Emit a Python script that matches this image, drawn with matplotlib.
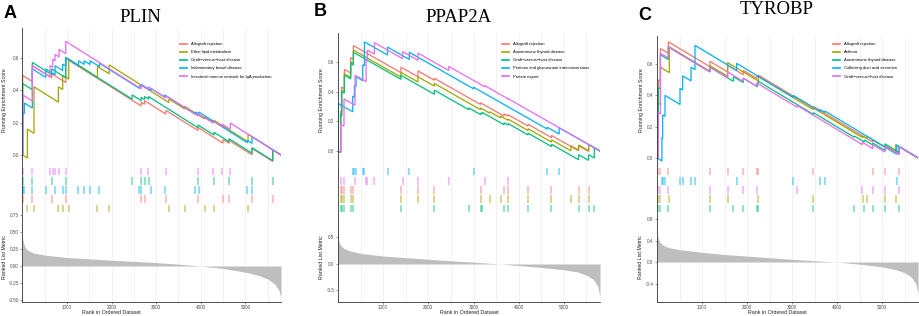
import numpy as np
import matplotlib.pyplot as plt
from matplotlib.lines import Line2D

plt.rcParams["font.family"] = ["Liberation Sans", "DejaVu Sans"]

N_GENES = 5800
W, H = 920, 316
set_colors = ["#F8766D", "#A3A500", "#00BF7D", "#00B0F6", "#E76BF3"]

# ---------------- A: PLIN ----------------
plin_sets = ["Allograft rejection", "Ether lipid metabolism", "Graft\u2212versus\u2212host disease",
             "Inflammatory bowel disease", "Intestinal immune network for IgA production"]
plin_hits = [
    [4, 221, 655, 970, 2663, 2738, 3217, 3936, 4498, 4633, 5150, 5615],
    [109, 258, 805, 902, 1037, 1682, 1944, 3284, 3636, 4086, 4288, 5060],
    [4, 221, 655, 970, 2460, 2663, 2738, 2828, 3936, 4296, 4633, 5150, 5615],
    [4, 41, 221, 521, 730, 902, 970, 1255, 1382, 1517, 1727, 2618, 2663, 2880, 3187, 3876, 3951, 5045, 5150],
    [4, 221, 618, 678, 730, 820, 970, 2663, 2820, 3217, 3936, 4273, 4476, 4663],
]
plin_es_lo = [
    [0.0, 0.452, 0.475, 0.446, 0.302, 0.312, 0.252, 0.151, 0.073, 0.072, 0.001, -0.040],
    [-0.019, 0.134, 0.325, 0.403, 0.467, 0.478, 0.50, 0.323, 0.284, 0.222, 0.20, 0.081],
    [0.0, 0.402, 0.495, 0.476, 0.344, 0.335, 0.342, 0.344, 0.168, 0.123, 0.082, 0.011, -0.035],
    [0.0, 0.254, 0.289, 0.478, 0.494, 0.52, 0.548, 0.551, 0.558, 0.557, 0.544, 0.411, 0.417, 0.397, 0.357,
     0.251, 0.252, 0.076, 0.072],
    [0.0, 0.332, 0.481, 0.54, 0.581, 0.604, 0.624, 0.407, 0.403, 0.351, 0.241, 0.197, 0.175, 0.158],
]
plin_es_hi = [
    [0.49, 0.55, 0.50, 0.595, 0.325, 0.335, 0.275, 0.17, 0.095, 0.09, 0.04, 0.032],
    [0.16, 0.42, 0.42, 0.49, 0.59, 0.545, 0.555, 0.345, 0.30, 0.235, 0.215, 0.128],
    [0.44, 0.57, 0.53, 0.60, 0.37, 0.355, 0.36, 0.36, 0.185, 0.14, 0.10, 0.045, 0.032],
    [0.26, 0.32, 0.53, 0.53, 0.55, 0.56, 0.60, 0.58, 0.58, 0.58, 0.565, 0.425, 0.435, 0.41, 0.37,
     0.265, 0.265, 0.09, 0.113],
    [0.37, 0.55, 0.55, 0.59, 0.62, 0.65, 0.70, 0.43, 0.42, 0.365, 0.255, 0.21, 0.19, 0.197],
]
plin_rug_rows = [4, 2, 3, 0, 1]
plin_metric_rank = [0, 10, 30, 60, 120, 250, 500, 1000, 1500, 2000, 2500, 3000, 3500, 4000, 4500, 5000,
                    5300, 5500, 5650, 5750, 5800]
plin_metric = [0.45, 0.38, 0.32, 0.27, 0.23, 0.19, 0.16, 0.125, 0.105, 0.085, 0.068, 0.05, 0.027, 0.0,
               -0.035, -0.09, -0.14, -0.19, -0.26, -0.35, -0.47]

# ---------------- B: PPAP2A ----------------
ppap_sets = ["Allograft rejection", "Autoimmune thyroid disease", "Graft\u2212versus\u2212host disease",
             "Pentose and glucuronate interconversions", "Protein export"]
ppap_hits = [
    [59, 81, 141, 281, 341, 1393, 1770, 2133, 3156, 3674, 3763, 4207, 4726, 5326, 5548],
    [59, 81, 141, 281, 341, 1393, 1770, 2133, 3156, 3356, 3600, 3763, 4207, 4726, 5156, 5326, 5548],
    [59, 81, 141, 281, 341, 1393, 2133, 2896, 3156, 3193, 3674, 3763, 4207, 4726, 5326, 5548, 5674],
    [5, 326, 363, 400, 548, 585, 1096, 1578, 3000, 4630, 4896],
    [59, 133, 378, 622, 652, 807, 1430, 1770, 2452, 3252, 3770],
]
ppap_es_lo = [
    [-0.01, 0.266, 0.42, 0.526, 0.62, 0.528, 0.50, 0.477, 0.313, 0.235, 0.235, 0.168, 0.09, 0.001, -0.003],
    [-0.01, 0.246, 0.40, 0.496, 0.59, 0.498, 0.465, 0.437, 0.278, 0.255, 0.223, 0.207, 0.138, 0.06, 0.001,
     0.006, 0.002],
    [-0.01, 0.236, 0.39, 0.486, 0.58, 0.483, 0.382, 0.278, 0.245, 0.249, 0.177, 0.175, 0.108, 0.03, -0.059,
     -0.063, -0.047],
    [0.0, 0.264, 0.364, 0.434, 0.474, 0.574, 0.647, 0.617, 0.419, 0.148, 0.114],
    [-0.01, 0.167, 0.308, 0.468, 0.605, 0.653, 0.622, 0.611, 0.542, 0.432, 0.35],
]
ppap_es_hi = [
    [0.27, 0.43, 0.55, 0.63, 0.71, 0.565, 0.54, 0.49, 0.325, 0.25, 0.245, 0.18, 0.105, 0.035, 0.044],
    [0.25, 0.41, 0.52, 0.60, 0.68, 0.53, 0.50, 0.455, 0.29, 0.265, 0.235, 0.215, 0.15, 0.075, 0.035,
     0.04, 0.044],
    [0.24, 0.40, 0.51, 0.59, 0.665, 0.51, 0.41, 0.29, 0.255, 0.26, 0.19, 0.185, 0.12, 0.045, -0.025,
     -0.025, 0.021],
    [0.32, 0.37, 0.44, 0.50, 0.58, 0.735, 0.70, 0.665, 0.43, 0.16, 0.156],
    [0.18, 0.35, 0.51, 0.61, 0.68, 0.73, 0.67, 0.66, 0.57, 0.44, 0.352],
]
ppap_rug_rows = [3, 4, 0, 1, 2]
ppap_metric_rank = [0, 10, 30, 60, 120, 250, 500, 1000, 1500, 2000, 2500, 3000, 3600, 4000, 4500, 5000,
                    5300, 5500, 5650, 5750, 5800]
ppap_metric = [0.55, 0.47, 0.40, 0.35, 0.30, 0.25, 0.20, 0.15, 0.12, 0.09, 0.06, 0.035, 0.0, -0.03,
               -0.065, -0.11, -0.15, -0.21, -0.29, -0.42, -0.62]

# ---------------- C: TYROBP ----------------
tyro_sets = ["Allograft rejection", "Asthma", "Autoimmune thyroid disease",
             "Collecting duct acid secretion", "Graft\u2212versus\u2212host disease"]
tyro_hits = [
    [30, 76, 252, 1178, 1570, 1918, 2215, 2252, 3474, 4793, 5067, 5378],
    [30, 76, 274, 1178, 1570, 2252, 3474, 4570, 4659, 5067, 5304],
    [30, 76, 252, 1178, 1696, 1918, 2230, 2252, 3474, 4385, 4607, 4793, 5067, 5378],
    [110, 126, 178, 511, 570, 756, 844, 1770, 3030, 3622, 3733, 5326],
    [30, 76, 252, 1178, 1570, 1918, 2215, 3118, 4563, 4793, 5067, 5385],
]
tyro_es_lo = [
    [0.0, 0.492, 0.67, 0.583, 0.55, 0.532, 0.509, 0.519, 0.319, 0.102, 0.068, 0.026],
    [0.0, 0.342, 0.546, 0.554, 0.522, 0.492, 0.309, 0.13, 0.125, 0.07, 0.039],
    [0.0, 0.442, 0.63, 0.55, 0.49, 0.482, 0.456, 0.476, 0.279, 0.132, 0.102, 0.083, 0.048, 0.036],
    [-0.019, 0.127, 0.266, 0.342, 0.435, 0.493, 0.565, 0.56, 0.387, 0.298, 0.291, 0.024],
    [0.0, 0.282, 0.64, 0.55, 0.512, 0.49, 0.459, 0.324, 0.085, 0.06, 0.038, 0.02],
]
tyro_es_hi = [
    [0.50, 0.70, 0.743, 0.618, 0.592, 0.56, 0.525, 0.53, 0.33, 0.115, 0.08, 0.073],
    [0.35, 0.58, 0.71, 0.59, 0.61, 0.52, 0.32, 0.14, 0.14, 0.08, 0.086],
    [0.45, 0.66, 0.71, 0.58, 0.52, 0.51, 0.48, 0.49, 0.29, 0.14, 0.115, 0.095, 0.09, 0.073],
    [0.13, 0.275, 0.40, 0.445, 0.525, 0.58, 0.72, 0.605, 0.40, 0.31, 0.30, 0.082],
    [0.29, 0.67, 0.71, 0.58, 0.55, 0.51, 0.48, 0.335, 0.10, 0.085, 0.075, 0.072],
]
tyro_rug_rows = [0, 3, 4, 1, 2]
tyro_metric_rank = [0, 10, 30, 60, 120, 250, 500, 1000, 1500, 2000, 2500, 3000, 3500, 4000, 4500, 5000,
                    5300, 5500, 5650, 5750, 5800]
tyro_metric = [0.62, 0.50, 0.43, 0.37, 0.32, 0.27, 0.23, 0.18, 0.14, 0.11, 0.08, 0.05, 0.025, 0.0,
               -0.04, -0.09, -0.14, -0.20, -0.28, -0.40, -0.60]


def fx(x):
    return x / W


def fy(y):
    return 1 - y / H


def add_ax(fig, left, right, top, bottom):
    return fig.add_axes([fx(left), fy(bottom), fx(right - left), (bottom - top) / H])


def es_path(hits, lo, hi):
    xs, ys = [0], [0.0]
    for r, a, b in zip(hits, lo, hi):
        xs += [r, r]
        ys += [a, b]
    xs.append(N_GENES)
    ys.append(0.0)
    return xs, ys


def style_axis(ax, show_x):
    for s in ["top", "right"]:
        ax.spines[s].set_visible(False)
    ax.spines["left"].set_color("#333333")
    ax.spines["left"].set_linewidth(0.6)
    ax.spines["bottom"].set_color("#333333")
    ax.spines["bottom"].set_linewidth(0.6)
    ax.spines["bottom"].set_visible(show_x)
    ax.set_xlim(0, N_GENES)
    ax.tick_params(labelsize=3.3, colors="#4D4D4D", length=1.5, width=0.4, pad=1)
    if not show_x:
        ax.set_xticks([])
    for g in range(500, N_GENES, 500):
        ax.axvline(g, color="#EBEBEB", lw=0.45, zorder=0)


def gsea_panel(fig, cfg):
    left, right, top = cfg["left"], cfg["right"], cfg["top"]
    ax1 = add_ax(fig, left, right, top, 167)
    ax2 = add_ax(fig, left, right, 167, 213)
    ax3 = add_ax(fig, left, right, 213, 302)

    # running enrichment score
    style_axis(ax1, False)
    handles = []
    for i in range(5):
        xs, ys = es_path(cfg["hits"][i], cfg["lo"][i], cfg["hi"][i])
        ax1.plot(xs, ys, color=set_colors[i], lw=0.9, solid_joinstyle="miter")
        handles.append(Line2D([], [], color=set_colors[i], lw=1.2))
    ax1.set_ylim(*cfg["es_lim"])
    ax1.set_yticks([0.0, 0.2, 0.4, 0.6])
    ax1.set_yticklabels(["0.0", "0.2", "0.4", "0.6"])
    ax1.legend(handles, cfg["sets"], loc="upper left", bbox_to_anchor=(fx(cfg["leg_x"]), fy(42)),
               bbox_transform=fig.transFigure, frameon=False, fontsize=3, handlelength=1.7,
               handletextpad=0.9, labelspacing=1.0, borderaxespad=0, borderpad=0)

    # rug of gene-set hits
    style_axis(ax2, False)
    ax2.set_yticks([])
    for row, i in enumerate(cfg["rows"]):
        y0 = 4 - row
        ax2.vlines(cfg["hits"][i], y0 + 0.08, y0 + 0.92, colors=set_colors[i], lw=1.1, alpha=0.55)
    ax2.set_ylim(0, 5)

    # ranked list metric
    style_axis(ax3, True)
    ax3.fill_between(cfg["m_rank"], 0, cfg["metric"], color="#BEBEBE", lw=0)
    ax3.set_ylim(*cfg["m_lim"])
    ax3.set_yticks(cfg["m_ticks"])
    ax3.set_yticklabels(cfg["m_labels"])
    ax3.set_xticks([1000, 2000, 3000, 4000, 5000])

    # texts
    fig.text(fx(cfg["ylab_x"]), fy(100), "Running Enrichment Score", rotation=90, ha="center",
             va="center", fontsize=3.8, color="#222222")
    fig.text(fx(cfg["ylab_x"]), fy(257), "Ranked List Metric", rotation=90, ha="center",
             va="center", fontsize=3.8, color="#222222")
    fig.text(fx(cfg["xlab_x"]), fy(312.5), "Rank in Ordered Dataset", ha="center", va="center",
             fontsize=3.8, color="#222222")
    fig.text(fx(cfg["title_xy"][0]), fy(cfg["title_xy"][1]), cfg["title"], ha="center", va="center",
             fontsize=13.5, family="Liberation Serif")
    fig.text(fx(cfg["letter_xy"][0]), fy(cfg["letter_xy"][1]), cfg["letter"], ha="center", va="center",
             fontsize=13, fontweight="bold")


panels = [
    dict(letter="A", title="PLIN", sets=plin_sets, hits=plin_hits, lo=plin_es_lo, hi=plin_es_hi,
         rows=plin_rug_rows, m_rank=plin_metric_rank, metric=plin_metric,
         left=22.5, right=281, top=28, es_lim=(-0.074, 0.782), m_lim=(-0.529, 0.779),
         m_ticks=[-0.5, -0.25, 0.0, 0.25, 0.5, 0.75], m_labels=["-0.50", "-0.25", "0.00", "0.25", "0.50", "0.75"],
         leg_x=180, ylab_x=5, xlab_x=111, title_xy=(140, 17), letter_xy=(10, 14)),
    dict(letter="B", title="PPAP2A", sets=ppap_sets, hits=ppap_hits, lo=ppap_es_lo, hi=ppap_es_hi,
         rows=ppap_rug_rows, m_rank=ppap_metric_rank, metric=ppap_metric,
         left=338, right=600, top=33, es_lim=(-0.108, 0.795), m_lim=(-0.717, 0.962),
         m_ticks=[-0.5, 0.0, 0.5], m_labels=["-0.5", "0.0", "0.5"],
         leg_x=502, ylab_x=322, xlab_x=469, title_xy=(459, 17), letter_xy=(320, 11)),
    dict(letter="C", title="TYROBP", sets=tyro_sets, hits=tyro_hits, lo=tyro_es_lo, hi=tyro_es_hi,
         rows=tyro_rug_rows, m_rank=tyro_metric_rank, metric=tyro_metric,
         left=657, right=918, top=36, es_lim=(-0.058, 0.78), m_lim=(-0.744, 0.912),
         m_ticks=[-0.4, 0.0, 0.4, 0.8], m_labels=["-0.4", "0.0", "0.4", "0.8"],
         leg_x=833, ylab_x=641, xlab_x=777, title_xy=(777, 9), letter_xy=(645, 16)),
]

fig = plt.figure(figsize=(W / 100, H / 100), dpi=100)
for cfg in panels:
    gsea_panel(fig, cfg)

fig.savefig("out.png", dpi=100)
